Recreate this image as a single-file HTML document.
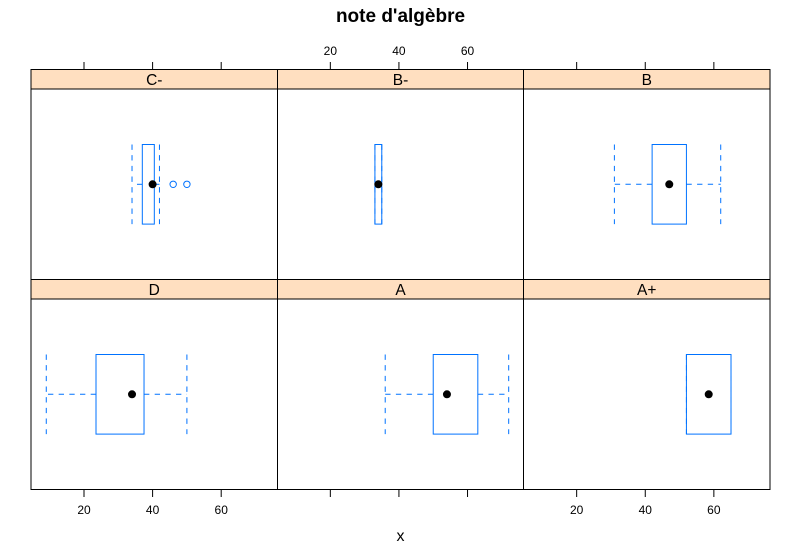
<!DOCTYPE html>
<html>
<head>
<meta charset="utf-8">
<title>note d'algèbre</title>
<style>
html,body{margin:0;padding:0;background:#fff;}
svg{display:block;font-family:"Liberation Sans",sans-serif;}
</style>
</head>
<body>
<svg id="chart" width="801" height="557" viewBox="0 0 801 557" xmlns="http://www.w3.org/2000/svg">
<rect x="0" y="0" width="801" height="557" fill="#fff"/>
<text x="400.5" y="22" text-anchor="middle" font-size="19" font-weight="bold" fill="#000">note d'algèbre</text>
<text x="400.5" y="541" text-anchor="middle" font-size="16" fill="#000">x</text>
</svg>
<script>
var categories = ["C-", "B-", "B", "D", "A", "A+"];
var whiskerLow = [34, 33, 31, 9, 36, 52];
var boxLow = [37, 33, 42, 23.5, 50, 52];
var medians = [40, 34, 47, 34, 54, 58.5];
var boxHigh = [40.5, 35, 52, 37.5, 63, 65];
var whiskerHigh = [42, 35, 62, 50, 72, 65];
var outliers = [[46, 50], [], [], [], [], []];
var tickValues = [20, 40, 60];
var tickLabels = ["20", "40", "60"];

var svg = document.getElementById('chart');
var NS = 'http://www.w3.org/2000/svg';
var BLUE = '#0072ff';
var panelW = 246.33;
var panelLeft = 31;
var pxPerUnit = 3.43;
var colEdges = [31, 277.5, 523.5, 770];
var rows = [
  {strip: 69.5, stripEnd: 89, top: 89, bottom: 279.5},
  {strip: 279.5, stripEnd: 299, top: 299, bottom: 489.5}
];

function xScale(col, v) {
  return panelLeft + col * panelW + 53 + (v - 20) * pxPerUnit;
}
function yCenter(row) {
  return row === 0 ? 184.3 : 394.3;
}
function make(tag, attrs, parent) {
  var el = document.createElementNS(NS, tag);
  for (var k in attrs) el.setAttribute(k, attrs[k]);
  (parent || svg).appendChild(el);
  return el;
}
function line(x1, y1, x2, y2, color, dash, parent) {
  var a = {x1: x1, y1: y1, x2: x2, y2: y2, stroke: color, 'stroke-width': 1};
  if (dash) a['stroke-dasharray'] = '5.33 5.34';
  return make('line', a, parent);
}

categories.forEach(function (cat, i) {
  var col = i % 3;
  var row = i < 3 ? 0 : 1;
  var r = rows[row];
  var left = colEdges[col];
  var right = colEdges[col + 1];
  var cy = yCenter(row);
  var boxTop = cy - 39.8;
  var boxBottom = cy + 39.8;

  var g = make('g', {});
  
  

  var strip = make('rect', {x: left, y: r.strip, width: right - left, height: r.stripEnd - r.strip, fill: '#ffdfc0', stroke: '#000', 'stroke-width': 1}, g);
  
  

  var label = make('text', {x: (left + right) / 2, y: r.strip + 15.5, 'text-anchor': 'middle', 'font-size': 15.5, fill: '#000'}, g);
  label.textContent = cat;
  
  

  var frame = make('rect', {x: left, y: r.top, width: right - left, height: r.bottom - r.top, fill: 'none', stroke: '#000', 'stroke-width': 1}, g);
  
  

  var wl = xScale(col, whiskerLow[i]);
  var wh = xScale(col, whiskerHigh[i]);
  var bl = xScale(col, boxLow[i]);
  var bh = xScale(col, boxHigh[i]);

  var wLow = line(bl, cy, wl, cy, BLUE, true, g);
  
  

  var wHigh = line(bh, cy, wh, cy, BLUE, true, g);
  
  

  var capLow = line(wl, boxTop, wl, boxBottom, BLUE, true, g);
  
  

  var capHigh = line(wh, boxTop, wh, boxBottom, BLUE, true, g);
  
  

  var box = make('rect', {x: bl, y: boxTop, width: bh - bl, height: boxBottom - boxTop, fill: 'none', stroke: BLUE, 'stroke-width': 1}, g);
  
  

  outliers[i].forEach(function (v) {
    var o = make('circle', {cx: xScale(col, v), cy: cy, r: 3.2, fill: 'none', stroke: BLUE, 'stroke-width': 1}, g);
    
    
  });

  var med = make('circle', {cx: xScale(col, medians[i]), cy: cy, r: 4, fill: '#000'}, g);
  
  

  tickValues.forEach(function (v, t) {
    var x = xScale(col, v);
    if (row === 0) {
      var tt = line(x, 62, x, 69.5, '#000', false, g);
      
      
      if (col === 1) {
        var tl = make('text', {x: x, y: 55, 'text-anchor': 'middle', 'font-size': 12, fill: '#000'}, g);
        tl.textContent = tickLabels[t];
        
        
      }
    } else {
      var bt = line(x, 489.5, x, 497, '#000', false, g);
      
      
      if (col !== 1) {
        var bLab = make('text', {x: x, y: 514, 'text-anchor': 'middle', 'font-size': 12, fill: '#000'}, g);
        bLab.textContent = tickLabels[t];
        
        
      }
    }
  });
});
</script>
</body>
</html>
